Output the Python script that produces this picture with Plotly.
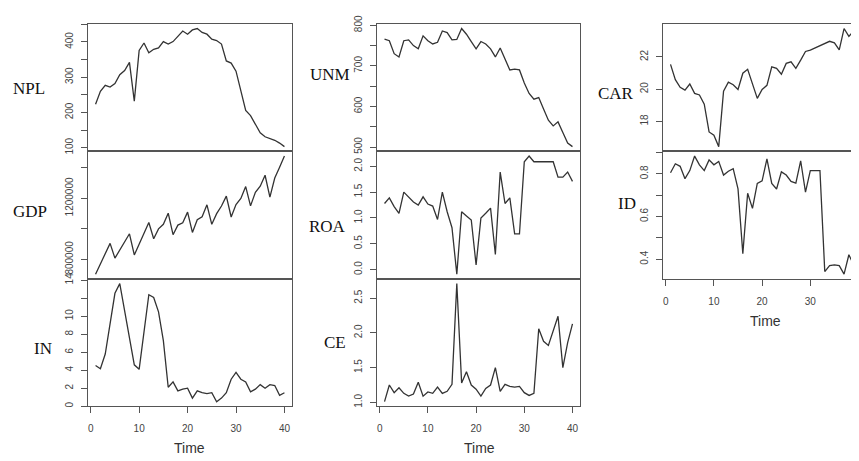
import plotly.graph_objects as go

# ---------------- data ----------------
time = list(range(1, 41))

npl = [223, 260, 277, 272, 282, 307, 319, 342, 232, 376,
       397, 369, 379, 383, 401, 394, 401, 417, 431, 422,
       434, 438, 427, 422, 408, 404, 394, 346, 340, 317,
       262, 206, 191, 165, 142, 131, 126, 121, 113, 103]

gdp = [703000, 770000, 838000, 905000, 808000, 862000, 915000, 968000, 829000, 900000,
       970000, 1042000, 935000, 1000000, 1030000, 1103000, 962000, 1025000, 1040000, 1110000,
       977000, 1060000, 1080000, 1158000, 1030000, 1100000, 1150000, 1215000, 1078000, 1160000,
       1200000, 1278000, 1151000, 1240000, 1280000, 1352000, 1208000, 1334000, 1404000, 1478000]

inr = [4.52, 4.16, 5.8, 9.2, 12.56, 13.64, 10.7, 7.8, 4.6, 4.1,
       8.5, 12.4, 12.1, 10.5, 7.3, 2.1, 2.7, 1.7, 1.9, 2.0,
       0.9, 1.7, 1.5, 1.4, 1.5, 0.5, 0.9, 1.5, 3.0, 3.77,
       3.0, 2.7, 1.6, 1.9, 2.4, 2.0, 2.4, 2.3, 1.2, 1.5]

unm = [766, 762, 730, 722, 762, 764, 750, 742, 774, 762,
       754, 758, 786, 782, 764, 765, 792, 778, 760, 742,
       760, 754, 742, 722, 744, 718, 690, 692, 690, 658,
       632, 618, 622, 594, 566, 552, 562, 536, 510, 501]

roa = [1.28, 1.39, 1.22, 1.09, 1.50, 1.41, 1.31, 1.25, 1.41, 1.27,
       1.23, 0.97, 1.50, 1.12, 0.81, -0.09, 1.12, 1.04, 0.96, 0.09,
       1.00, 1.09, 1.19, 0.29, 1.89, 1.28, 1.39, 0.69, 0.69, 2.09,
       2.20, 2.09, 2.09, 2.09, 2.09, 2.09, 1.79, 1.79, 1.89, 1.71]

ce = [1.01, 1.25, 1.14, 1.21, 1.13, 1.09, 1.12, 1.29, 1.09, 1.15,
      1.13, 1.22, 1.13, 1.16, 1.26, 2.71, 1.28, 1.44, 1.25, 1.19,
      1.09, 1.20, 1.25, 1.50, 1.16, 1.26, 1.23, 1.22, 1.23, 1.14,
      1.10, 1.13, 2.06, 1.88, 1.82, 2.02, 2.24, 1.50, 1.86, 2.13]

car = [21.54, 20.59, 20.12, 19.94, 20.32, 19.74, 19.64, 19.07, 17.35, 17.15,
       16.44, 19.88, 20.44, 20.28, 19.98, 20.99, 21.23, 20.32, 19.43, 19.98,
       20.24, 21.39, 21.29, 20.93, 21.60, 21.70, 21.29, 21.80, 22.34, 22.42,
       22.55, 22.71, 22.81, 22.97, 22.87, 22.44, 23.76, 23.27, 23.62, 23.47]

idr = [0.805, 0.847, 0.835, 0.777, 0.815, 0.883, 0.842, 0.815, 0.865, 0.842,
       0.858, 0.794, 0.812, 0.824, 0.729, 0.426, 0.709, 0.638, 0.755, 0.767,
       0.870, 0.755, 0.729, 0.809, 0.794, 0.764, 0.756, 0.861, 0.714, 0.815,
       0.815, 0.815, 0.342, 0.370, 0.373, 0.370, 0.330, 0.421, 0.373, 0.373]

series_names = ["NPL", "GDP", "IN", "UNM", "ROA", "CE", "CAR", "ID"]

# tick values / labels
x_ticks = [0, 10, 20, 30, 40]
x_ticklabels = ["0", "10", "20", "30", "40"]
npl_ticks = [100, 150, 200, 250, 300, 350, 400, 450]
npl_ticklabels = ["100", "", "200", "", "300", "", "400", ""]
gdp_ticks = [800000, 1000000, 1200000, 1400000]
gdp_ticklabels = ["800000", "", "1200000", ""]
in_ticks = [0, 2, 4, 6, 8, 10, 12, 14]
in_ticklabels = ["0", "2", "4", "6", "8", "10", "", "14"]
unm_ticks = [500, 550, 600, 650, 700, 750, 800]
unm_ticklabels = ["500", "", "600", "", "700", "", "800"]
roa_ticks = [0.0, 0.5, 1.0, 1.5, 2.0]
roa_ticklabels = ["0.0", "0.5", "1.0", "1.5", "2.0"]
ce_ticks = [1.0, 1.5, 2.0, 2.5]
ce_ticklabels = ["1.0", "1.5", "2.0", "2.5"]
car_ticks = [18, 20, 22]
car_ticklabels = ["18", "20", "22"]
id_ticks = [0.4, 0.5, 0.6, 0.7, 0.8, 0.9]
id_ticklabels = ["0.4", "", "0.6", "", "0.8", ""]

# ---------------- layout geometry (reference pixels) ----------------
OFF = 8                      # page body margin of the html page
W, H = 859 - OFF, 461 - OFF  # figure size so that page fits the window


def fx(p):
    return (p - OFF) / W


def fy(p):
    return 1 - (p - OFF) / H


col_px = [(88, 292), (377, 580), (663, 859)]
row_px = [(15, 146), (146, 277), (277, 408)]
col_xrange = [[-0.56, 41.56], [-0.56, 41.56], [-0.56, 40.1]]

panels = [
    # data, ticks, labels, col, row, bottom?, label position (px)
    (npl, npl_ticks, npl_ticklabels, 0, 0, False, (29, 81)),
    (gdp, gdp_ticks, gdp_ticklabels, 0, 1, False, (30, 208)),
    (inr, in_ticks, in_ticklabels, 0, 2, True, (43, 349)),
    (unm, unm_ticks, unm_ticklabels, 1, 0, False, (330, 67)),
    (roa, roa_ticks, roa_ticklabels, 1, 1, False, (327, 223)),
    (ce, ce_ticks, ce_ticklabels, 1, 2, True, (335, 342)),
    (car, car_ticks, car_ticklabels, 2, 0, False, (616, 87)),
    (idr, id_ticks, id_ticklabels, 2, 1, True, (627, 200)),
]

AXIS_COLOR = "#555555"
LINE_COLOR = "#333333"
TICK_FONT = dict(family="Liberation Sans, Arial, sans-serif", size=10, color="#444444")

fig = go.Figure()
layout = dict(
    width=W, height=H,
    margin=dict(l=0, r=0, t=0, b=0),
    paper_bgcolor="white", plot_bgcolor="white",
    showlegend=False,
)
annotations = []

for i, (vals, yt, ytl, c, r, bottom, lab) in enumerate(panels):
    n = i + 1
    xa = "xaxis" if n == 1 else f"xaxis{n}"
    ya = "yaxis" if n == 1 else f"yaxis{n}"
    xref = "x" if n == 1 else f"x{n}"
    yref = "y" if n == 1 else f"y{n}"

    lo, hi = min(vals), max(vals)
    pad = 0.04 * (hi - lo)

    x0, x1 = col_px[c]
    y0, y1 = row_px[r]

    fig.add_trace(go.Scatter(x=time, y=vals, mode="lines",
                             line=dict(color=LINE_COLOR, width=1.3),
                             xaxis=xref, yaxis=yref, hoverinfo="skip"))

    layout[xa] = dict(
        domain=[max(fx(x0), 0), min(fx(x1), 1)], anchor=yref, range=col_xrange[c],
        showgrid=False, zeroline=False,
        showline=True, mirror=True, linecolor=AXIS_COLOR, linewidth=1,
        tickvals=x_ticks if bottom else [], ticktext=x_ticklabels if bottom else [],
        ticks="outside" if bottom else "", ticklen=6, tickcolor=AXIS_COLOR,
        showticklabels=bottom, tickfont=TICK_FONT, ticklabelstandoff=7,
    )
    layout[ya] = dict(
        domain=[fy(y1), fy(y0)], anchor=xref, range=[lo - pad, hi + pad],
        showgrid=False, zeroline=False,
        showline=True, mirror=(c != 2), linecolor=AXIS_COLOR, linewidth=1,
        tickvals=yt, ticktext=ytl, ticks="outside", ticklen=6, tickcolor=AXIS_COLOR,
        tickangle=-90, tickfont=TICK_FONT, ticklabelstandoff=4,
    )

    annotations.append(dict(
        text=series_names[i], xref="paper", yref="paper",
        x=fx(lab[0]), y=fy(lab[1]), xanchor="center", yanchor="middle",
        showarrow=False,
        font=dict(family="Liberation Serif, Times New Roman, serif", size=17, color="#111111"),
    ))

# "Time" axis titles
for cx, cy in [(189, 451), (479, 451), (765, 320)]:
    annotations.append(dict(
        text="Time", xref="paper", yref="paper", x=fx(cx), y=fy(cy),
        xanchor="center", yanchor="middle", showarrow=False,
        font=dict(family="Liberation Sans, Arial, sans-serif", size=14, color="#333333"),
    ))

layout["annotations"] = annotations
fig.update_layout(**layout)
fig.write_html("out.html")
